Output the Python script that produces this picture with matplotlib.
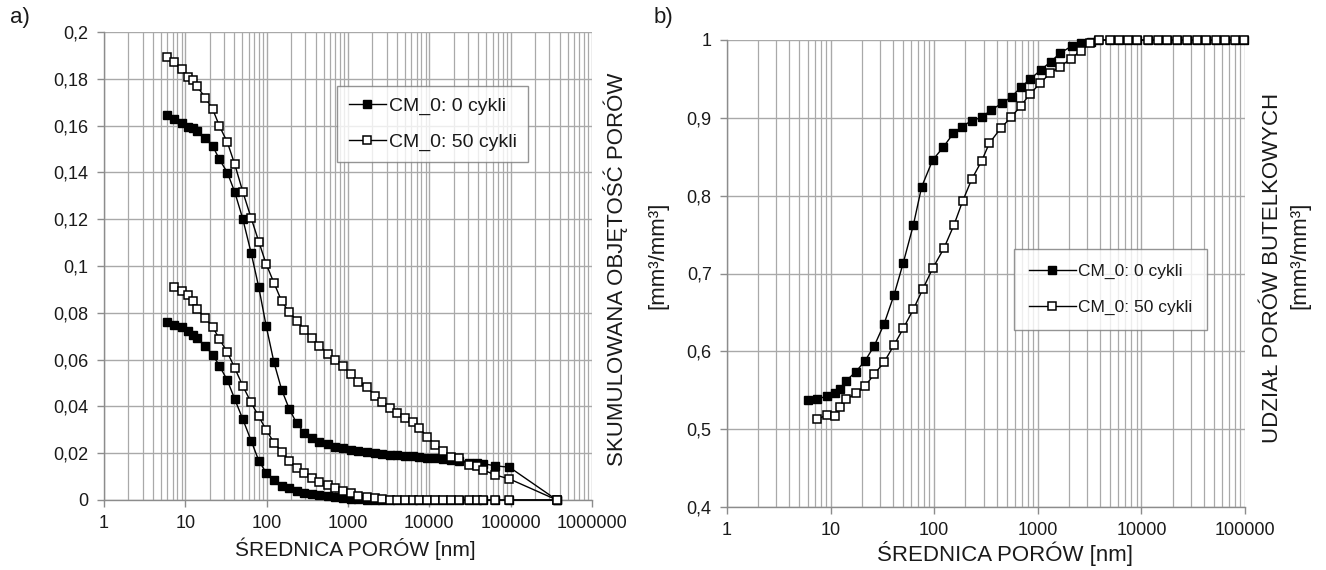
import matplotlib
matplotlib.use("Agg")
import matplotlib.pyplot as plt
from matplotlib.ticker import FixedLocator, FuncFormatter, LogLocator, NullFormatter

plt.rcParams['font.family'] = ['Liberation Sans', 'DejaVu Sans']

# ---------------- data: panel a) ----------------
x_a = [5.9, 7.3, 9.0, 10.9, 12.5, 13.8, 17.5, 21.7, 26.2, 32.9, 40.5, 50.8, 64.3, 80, 98.4,
       123, 153, 190, 234, 288, 359, 445, 564, 694, 863, 1082, 1343, 1703, 2155, 2604,
       3297, 4056, 5085, 6380, 7550, 9480, 11780, 14650, 18540, 23250, 31130, 38370,
       46240, 64500, 96600, 370000]

a_cum_0 = [0.1646, 0.1630, 0.1613, 0.1596, 0.1588, 0.1577, 0.1545, 0.1513, 0.1456, 0.1399,
           0.1316, 0.1202, 0.1057, 0.0909, 0.0745, 0.0588, 0.0471, 0.0388, 0.0328, 0.0288,
           0.0264, 0.0250, 0.0238, 0.0228, 0.0222, 0.0215, 0.0210, 0.0205, 0.0200, 0.0197,
           0.0194, 0.0191, 0.0188, 0.0186, 0.0184, 0.0181, 0.0178, 0.0175, 0.0171, 0.0166,
           0.0160, 0.0157, 0.0155, 0.0146, 0.0140, 0.0]

a_cum_50 = [0.1894, 0.1870, 0.1842, 0.1809, 0.1794, 0.1770, 0.1720, 0.1670, 0.1599, 0.1528,
            0.1435, 0.1318, 0.1206, 0.1104, 0.1009, 0.0928, 0.0849, 0.0802, 0.0767, 0.0728,
            0.0693, 0.0660, 0.0625, 0.0600, 0.0571, 0.0538, 0.0505, 0.0483, 0.0446, 0.0417,
            0.0394, 0.0371, 0.0352, 0.0333, 0.0307, 0.0269, 0.0236, 0.0211, 0.0183, 0.0179,
            0.0150, 0.0146, 0.0128, 0.0107, 0.0090, 0.0]

a_low_0 = [0.0759, 0.0749, 0.0740, 0.0721, 0.0707, 0.0693, 0.0657, 0.0621, 0.0574, 0.0511,
           0.0431, 0.0346, 0.0254, 0.0168, 0.0117, 0.0086, 0.0061, 0.0050, 0.0040, 0.0031,
           0.0026, 0.0020, 0.0015, 0.0011, 0.0008, 0.0005, 0.0003, 0.0002, 0.0001, 0.0,
           0.0, 0.0, 0.0, 0.0, 0.0, 0.0, 0.0, 0.0, 0.0, 0.0,
           0.0, 0.0, 0.0, 0.0, 0.0, 0.0]

x_a_low50 = x_a[1:]
a_low_50 = [0.0909, 0.0892, 0.0874, 0.0849, 0.0817, 0.0778, 0.0740, 0.0688, 0.0631,
            0.0564, 0.0488, 0.0417, 0.0357, 0.0300, 0.0245, 0.0207, 0.0168, 0.0136, 0.0114,
            0.0096, 0.0078, 0.0064, 0.0050, 0.0040, 0.0029, 0.0018, 0.0012, 0.0007, 0.0003,
            0.0, 0.0, 0.0, 0.0, 0.0, 0.0, 0.0, 0.0, 0.0, 0.0,
            0.0, 0.0, 0.0, 0.0, 0.0, 0.0]

# ---------------- data: panel b) ----------------
x_b0 = [6.1, 7.4, 9.2, 11.0, 12.3, 14.1, 17.5, 21.5, 26.4, 32.7, 40.9, 50.3, 62.9, 75.7, 96.7,
        122, 153, 184, 230, 287, 350, 449, 560, 684, 841, 1067, 1333, 1638, 2124, 2595,
        3237, 3838, 4980, 6080, 7430, 9080, 11600, 14450, 17660, 22080, 27540, 34430,
        42400, 52500, 64600, 79400, 97700]
b_0 = [0.537, 0.5386, 0.5424, 0.5467, 0.551, 0.5621, 0.5737, 0.5878, 0.6071, 0.6346, 0.6722,
       0.7138, 0.7622, 0.8114, 0.8458, 0.8621, 0.8801, 0.8886, 0.8963, 0.9006, 0.9095, 0.9186,
       0.9271, 0.9392, 0.9495, 0.9614, 0.9721, 0.9829, 0.9923, 0.9958, 0.998, 1.0, 1.0,
       1.0, 1.0, 1.0, 1.0, 1.0, 1.0, 1.0, 1.0, 1.0, 1.0, 1.0, 1.0, 1.0, 1.0]

x_b50 = [7.4, 9.2, 11.0, 12.3, 14.1, 17.5, 21.5, 26.4, 32.7, 40.9, 50.3, 62.9, 77.4, 96.7,
         124, 155, 188, 230, 287, 340, 438, 551, 684, 841, 1050, 1312, 1638, 2077, 2595,
         3190, 3926, 4980, 6080, 7430, 9080, 11600, 14450, 17660, 22080, 27540, 34430,
         42400, 52500, 64600, 79400, 97700]
b_50 = [0.5129, 0.518, 0.5167, 0.5287, 0.5382, 0.5459, 0.5553, 0.5707, 0.5857, 0.608, 0.6294,
        0.6539, 0.6796, 0.7066, 0.7323, 0.7622, 0.7928, 0.821, 0.8445, 0.8672, 0.8865, 0.9006,
        0.9152, 0.9306, 0.9443, 0.9572, 0.9657, 0.9756, 0.9863, 0.9958, 1.0, 1.0, 1.0, 1.0,
        1.0, 1.0, 1.0, 1.0, 1.0, 1.0, 1.0, 1.0, 1.0, 1.0, 1.0, 1.0]

label_0 = "CM_0: 0 cykli"
label_50 = "CM_0: 50 cykli"
a_xticks = [1, 10, 100, 1000, 10000, 100000, 1000000]
b_xticks = [1, 10, 100, 1000, 10000, 100000]
a_yticks = [0, 0.02, 0.04, 0.06, 0.08, 0.1, 0.12, 0.14, 0.16, 0.18, 0.2]
b_yticks = [0.4, 0.5, 0.6, 0.7, 0.8, 0.9, 1.0]

W, H = 1326, 570
fig = plt.figure(figsize=(W / 100, H / 100), dpi=100)

def box(l, t, r, b):
    return [l / W, 1 - b / H, (r - l) / W, (b - t) / H]

ax1 = fig.add_axes(box(104, 32, 592, 500))
ax2 = fig.add_axes(box(727, 40, 1245, 507))

GRID = '#a9a9a9'
SPINE = '#8c8c8c'
TXT = '#1a1a1a'
fs_tick = 13

filled = dict(color='black', marker='s', markersize=5.8, markerfacecolor='black',
              markeredgecolor='black', markeredgewidth=1.0, linewidth=1.0, clip_on=False)
hollow = dict(color='black', marker='s', markersize=5.8, markerfacecolor='white',
              markeredgecolor='black', markeredgewidth=1.1, linewidth=1.0, clip_on=False)

def fmt(v, pos=None):
    return ('%g' % v).replace('.', ',')

def style(ax, xticks, yticks, xlim, ylim):
    ax.set_xscale('log')
    ax.set_xlim(*xlim)
    ax.set_ylim(*ylim)
    ax.xaxis.set_major_locator(FixedLocator(xticks))
    ax.xaxis.set_minor_locator(LogLocator(base=10, subs=range(2, 10), numticks=20))
    ax.xaxis.set_minor_formatter(NullFormatter())
    ax.xaxis.set_major_formatter(FuncFormatter(lambda v, p: '%d' % round(v)))
    ax.yaxis.set_major_locator(FixedLocator(yticks))
    ax.yaxis.set_major_formatter(FuncFormatter(fmt))
    ax.grid(True, which='major', axis='both', color=GRID, linewidth=1.0)
    ax.grid(True, which='minor', axis='x', color=GRID, linewidth=0.9)
    ax.set_axisbelow(True)
    for s in ('top', 'right'):
        ax.spines[s].set_visible(False)
    for s in ('left', 'bottom'):
        ax.spines[s].set_color(SPINE)
        ax.spines[s].set_linewidth(1.0)
    ax.tick_params(axis='both', which='major', labelsize=fs_tick, color=SPINE,
                   length=5, width=1.0, direction='out', labelcolor=TXT)
    ax.tick_params(axis='x', which='major', pad=6)
    ax.tick_params(axis='y', which='major', pad=6)
    ax.tick_params(axis='x', which='minor', length=0)

style(ax1, a_xticks, a_yticks, (1, 1e6), (0, 0.2))
style(ax2, b_xticks, b_yticks, (1, 1e5), (0.4, 1.0))

# panel a
ax1.plot(x_a, a_cum_0, label=label_0, zorder=3, **filled)
ax1.plot(x_a, a_low_0, zorder=3, **filled)
ax1.plot(x_a, a_cum_50, label=label_50, zorder=4, **hollow)
ax1.plot(x_a_low50, a_low_50, zorder=4, **hollow)

# panel b
ax2.plot(x_b0, b_0, label=label_0, zorder=3, **filled)
ax2.plot(x_b50, b_50, label=label_50, zorder=4, **hollow)

leg_common = dict(frameon=True, fancybox=False, edgecolor='#7a7a7a',
                  handletextpad=0.15, borderaxespad=0, loc='upper left')
lg1 = ax1.legend(bbox_to_anchor=(337 / W, 1 - 86 / H), bbox_transform=fig.transFigure,
                 fontsize=14, handlelength=1.9, labelspacing=0.9, borderpad=0.6,
                 **leg_common)
lg2 = ax2.legend(bbox_to_anchor=(1014 / W, 1 - 249 / H), bbox_transform=fig.transFigure,
                 fontsize=12.5, handlelength=2.7, labelspacing=1.2, borderpad=0.85,
                 **leg_common)
for lg in (lg1, lg2):
    lg.get_frame().set_linewidth(1.0)
    lg.set_zorder(10)
    for t in lg.get_texts():
        t.set_color(TXT)

# axis titles
fig.text(355 / W, 1 - 549 / H, "ŚREDNICA PORÓW [nm]", ha='center', va='center',
         fontsize=15, color=TXT)
fig.text(1005 / W, 1 - 553 / H, "ŚREDNICA PORÓW [nm]", ha='center', va='center',
         fontsize=16, color=TXT)

fig.text(615 / W, 1 - 269 / H, "SKUMULOWANA OBJĘTOŚĆ PORÓW", rotation=90,
         ha='center', va='center', fontsize=16, color=TXT)
fig.text(658 / W, 1 - 255 / H, "[mm³/mm³]", rotation=90,
         ha='center', va='center', fontsize=16, color=TXT)
fig.text(1273 / W, 1 - 268 / H, "UDZIAŁ PORÓW BUTELKOWYCH", rotation=90,
         ha='center', va='center', fontsize=16, color=TXT)
fig.text(1300 / W, 1 - 255 / H, "[mm³/mm³]", rotation=90,
         ha='center', va='center', fontsize=16, color=TXT)

fig.text(20 / W, 1 - 18 / H, "a)", ha='center', va='center', fontsize=16, color=TXT)
fig.text(663 / W, 1 - 18 / H, "b)", ha='center', va='center', fontsize=16, color=TXT)

fig.savefig("out.png", dpi=100)
